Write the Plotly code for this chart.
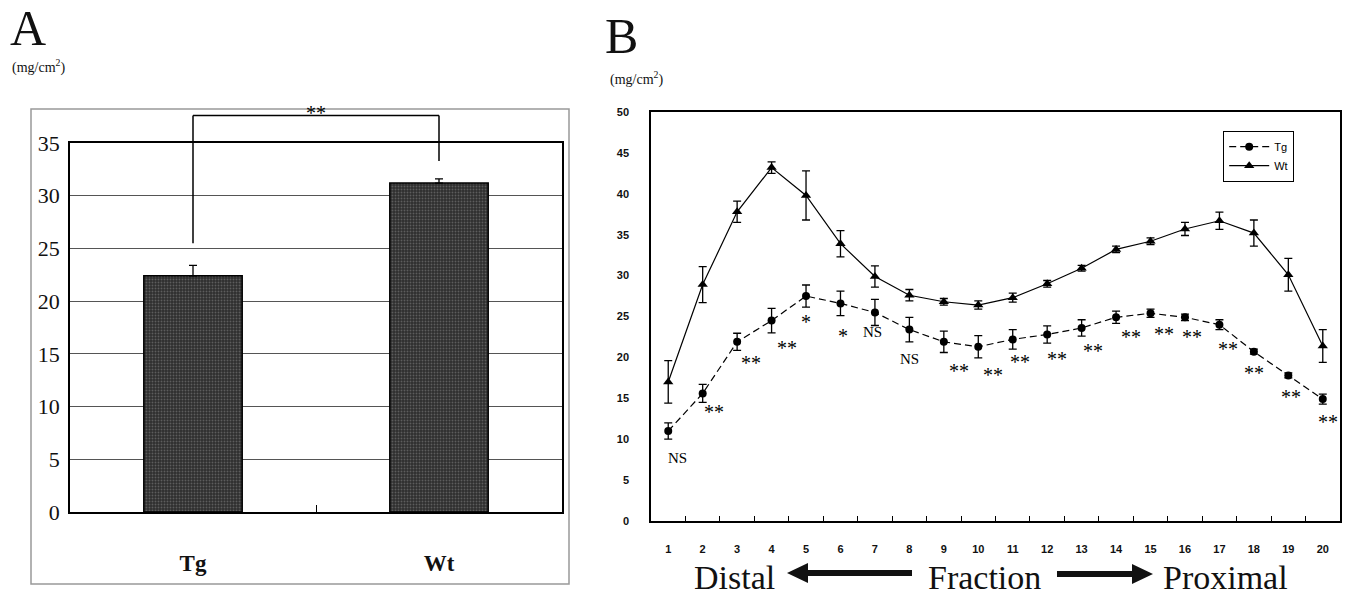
import plotly.graph_objects as go

W, H = 1345, 597


def px(x):
    return x / W


def py(y):
    return 1 - y / H


# ---------------- data ----------------
# Panel A
groups = ["Tg", "Wt"]
a_mean = [22.4, 31.2]
a_err = [1.0, 0.4]
a_ymax = 35
a_bracket = [25.5, 37.6, 33.3]  # left arm bottom, bracket top, right arm bottom

# Panel B
fractions = ["1", "2", "3", "4", "5", "6", "7", "8", "9", "10",
             "11", "12", "13", "14", "15", "16", "17", "18", "19", "20"]
tg_mean = [11.0, 15.6, 21.9, 24.5, 27.5, 26.6, 25.5, 23.4, 21.9, 21.3,
           22.2, 22.8, 23.6, 24.9, 25.4, 24.9, 24.0, 20.7, 17.8, 14.9]
tg_err = [1.0, 1.1, 1.05, 1.5, 1.35, 1.5, 1.6, 1.5, 1.3, 1.35,
          1.2, 1.05, 1.0, 0.75, 0.5, 0.4, 0.6, 0.3, 0.3, 0.6]
wt_mean = [17.0, 28.9, 37.8, 43.2, 39.8, 33.9, 29.9, 27.6, 26.8, 26.4,
           27.3, 29.0, 30.9, 33.2, 34.2, 35.7, 36.7, 35.2, 30.1, 21.4]
wt_err = [2.6, 2.2, 1.3, 0.7, 3.0, 1.6, 1.3, 0.7, 0.4, 0.5,
          0.55, 0.4, 0.35, 0.4, 0.4, 0.8, 1.05, 1.6, 2.0, 2.0]
sig_labels = ["NS", "**", "**", "**", "*", "*", "NS", "NS", "**", "**",
              "**", "**", "**", "**", "**", "**", "**", "**", "**", "**"]

# label offsets (pixels) relative to the Tg point: (right, down)
sig_offsets = [(9, 27), (11, 15), (14, 17), (15, 23), (0, 22), (3, 29), (-2, 20),
               (0, 29), (15, 25), (15, 24), (7, 19), (10, 20), (11, 19), (15, 16),
               (13, 17), (7, 16), (9, 20), (0, 17), (3, 18), (5, 19)]

SERIF = "Liberation Serif, Times New Roman, serif"
SANS = "Liberation Sans, Arial, sans-serif"

fig = go.Figure()

# Panel A bars
fig.add_trace(go.Bar(
    x=groups, y=a_mean, width=0.4,
    error_y=dict(type="data", array=a_err, symmetric=False, arrayminus=[0, 0],
                 color="black", thickness=1.3, width=4),
    marker=dict(color="#2e2e2e", line=dict(color="black", width=1.5),
                pattern=dict(shape=".", fgcolor="#8c8c8c", size=3, solidity=0.3,
                             fillmode="overlay")),
    xaxis="x", yaxis="y", showlegend=False, hoverinfo="skip",
))

# Panel B lines
fig.add_trace(go.Scatter(
    x=fractions, y=tg_mean, name="Tg", mode="lines+markers",
    line=dict(color="black", width=1.2, dash="7px,4px"),
    marker=dict(symbol="circle", size=8, color="black"),
    error_y=dict(type="data", array=tg_err, color="black", thickness=1.3, width=4),
    xaxis="x2", yaxis="y2",
))
fig.add_trace(go.Scatter(
    x=fractions, y=wt_mean, name="Wt", mode="lines+markers",
    line=dict(color="black", width=1.2),
    marker=dict(symbol="triangle-up", size=9, color="black"),
    error_y=dict(type="data", array=wt_err, color="black", thickness=1.3, width=4),
    xaxis="x2", yaxis="y2",
))

shapes = []
annotations = []

# Panel A outer frame
shapes.append(dict(type="rect", xref="paper", yref="paper",
                   x0=px(31), x1=px(569), y0=py(584), y1=py(109),
                   line=dict(color="#999999", width=1.5), layer="below"))
# significance bracket (panel A)
lb, top, rb = a_bracket
for x0, x1, y0, y1 in [(0, 0, lb, top), (0, 1, top, top), (1, 1, rb, top)]:
    shapes.append(dict(type="line", xref="x", yref="y domain",
                       x0=x0, x1=x1, y0=y0 / a_ymax, y1=y1 / a_ymax,
                       line=dict(color="black", width=1.5)))
annotations.append(dict(xref="x", yref="y domain", x=0.5, y=top / a_ymax,
                        text="**", showarrow=False, yshift=3,
                        xanchor="center", yanchor="middle",
                        font=dict(family=SERIF, size=20, color="black")))


def label(x, y, text, size):
    return dict(xref="paper", yref="paper", x=px(x), y=py(y), text=text,
                showarrow=False, xanchor="center", yanchor="middle",
                font=dict(family=SERIF, size=size, color="#111"))


# Panel letters and units
annotations += [
    label(28, 28, "A", 50),
    label(38, 66, "(mg/cm<sup>2</sup>)", 14),
    label(621, 36, "B", 50),
    label(636, 79, "(mg/cm<sup>2</sup>)", 14),
]

# significance labels (panel B)
for i, (lab, (dx, dy)) in enumerate(zip(sig_labels, sig_offsets)):
    star = "*" in lab
    annotations.append(dict(xref="x2", yref="y2", x=i, y=tg_mean[i], text=lab,
                            showarrow=False, xanchor="center", yanchor="middle",
                            xshift=dx, yshift=-(dy + (4 if star else 0)),
                            font=dict(family=SERIF, size=20 if star else 15,
                                      color="black")))

# bottom caption: Distal <- Fraction -> Proximal
for txt, cx in [("Distal", 734), ("Fraction", 984), ("Proximal", 1225)]:
    annotations.append(label(cx, 577, txt, 34))


def poly(points):
    return "M " + " L ".join(f"{px(x):.5f},{py(y):.5f}" for x, y in points) + " Z"


shapes.append(dict(type="path", xref="paper", yref="paper", fillcolor="#111",
                   line=dict(color="#111", width=0),
                   path=poly([(787, 573), (808, 563), (808, 570), (912, 570),
                              (912, 576), (808, 576), (808, 583)])))
shapes.append(dict(type="path", xref="paper", yref="paper", fillcolor="#111",
                   line=dict(color="#111", width=0),
                   path=poly([(1153, 574), (1132, 564), (1132, 571), (1057, 571),
                              (1057, 577), (1132, 577), (1132, 584)])))

fig.update_layout(
    width=W, height=H,
    margin=dict(l=0, r=0, t=0, b=0, pad=0, autoexpand=False),
    paper_bgcolor="white", plot_bgcolor="white",
    shapes=shapes, annotations=annotations,
    showlegend=True,
    legend=dict(x=px(1223), y=py(131), xanchor="left", yanchor="top",
                bordercolor="black", borderwidth=1.2, bgcolor="white",
                font=dict(family=SANS, size=11, color="black"),
                tracegroupgap=0, itemwidth=40),
    xaxis=dict(domain=[px(70), px(562)], type="category", range=[-0.5, 1.5],
               anchor="y", automargin=False,
               showline=True, linecolor="black", linewidth=1.5, mirror=True,
               ticks="inside", tickson="boundaries", ticklen=7, tickcolor="black",
               showgrid=False, ticklabelstandoff=30,
               tickfont=dict(family=SERIF, size=23, color="#111", weight="bold")),
    yaxis=dict(domain=[py(512), py(143)], range=[0, a_ymax], anchor="x",
               automargin=False, tickvals=[0, 5, 10, 15, 20, 25, 30, 35],
               showgrid=True, gridcolor="#555555", gridwidth=1, zeroline=False,
               showline=True, linecolor="black", linewidth=1.5, mirror=True,
               ticks="", ticklabelstandoff=4,
               tickfont=dict(family=SERIF, size=22, color="#111")),
    xaxis2=dict(domain=[px(651), px(1340)], type="category", range=[-0.5, 19.5],
                anchor="y2", automargin=False,
                showline=True, linecolor="black", linewidth=1.5, mirror=True,
                ticks="inside", tickson="boundaries", ticklen=5, tickcolor="black",
                showgrid=False, ticklabelstandoff=17,
                tickfont=dict(family=SANS, size=11, color="#111", weight="bold")),
    yaxis2=dict(domain=[py(521), py(112)], range=[0, 50], anchor="x2", dtick=5,
                automargin=False, showgrid=False, zeroline=False,
                showline=True, linecolor="black", linewidth=1.5, mirror=True,
                ticks="", ticklabelstandoff=18,
                tickfont=dict(family=SANS, size=11, color="#111", weight="bold")),
)

fig.write_html("out.html", config={"displayModeBar": False},
               post_script="document.body.style.margin='0px';")
